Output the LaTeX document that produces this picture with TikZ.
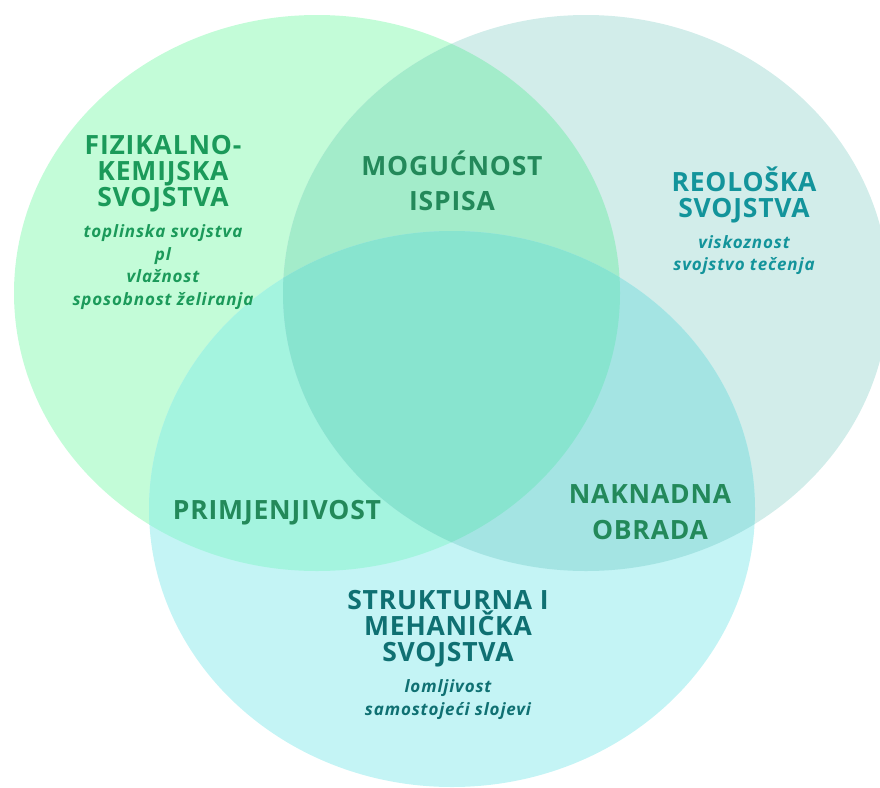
\documentclass[tikz,border=0pt]{standalone}
\usepackage{fontspec}
\setmainfont{Open Sans}
\newfontfamily\headfont{Open Sans}[LetterSpace=3]
\newfontfamily\subfont{Open Sans}[LetterSpace=5]
\usetikzlibrary{positioning}

\definecolor{cL}{HTML}{C3FCD8}
\definecolor{cR}{HTML}{D2EDEA}
\definecolor{cB}{HTML}{C4F4F5}
\definecolor{cLR}{HTML}{A3ECCA}
\definecolor{cLB}{HTML}{A4F4DF}
\definecolor{cRB}{HTML}{A4E4E3}
\definecolor{cLRB}{HTML}{88E4CF}
\definecolor{tL}{HTML}{1B9A5A}
\definecolor{tM}{HTML}{23895A}
\definecolor{tR}{HTML}{13949B}
\definecolor{tB}{HTML}{0F7072}

\newcommand{\ellL}{(317,293) ellipse [x radius=303, y radius=278]}
\newcommand{\ellR}{(586,293) ellipse [x radius=303, y radius=278]}
\newcommand{\ellB}{(452,509) ellipse [x radius=303, y radius=278]}

\begin{document}
\begin{tikzpicture}[x=1pt, y=-1pt,
	head/.style={font=\headfont\bfseries\fontsize{26.5}{26}\selectfont, align=center, inner sep=0pt},
	sub/.style={font=\subfont\bfseries\itshape\fontsize{17}{22.5}\selectfont, align=center, inner sep=0pt}]
	\useasboundingbox (0,0) rectangle (880,787);
	\clip (0,0) rectangle (880,787);
	
	\fill[cL] \ellL;
	\fill[cR] \ellR;
	\fill[cB] \ellB;
	\begin{scope}
		\clip \ellL;
		\fill[cLR] \ellR;
		\fill[cLB] \ellB;
	\end{scope}
	\begin{scope}
		\clip \ellR;
		\fill[cRB] \ellB;
	\end{scope}
	\begin{scope}
		\clip \ellL;
		\clip \ellR;
		\fill[cLRB] \ellB;
	\end{scope}
	
	\node[head, text=tL](FIZ) at (163,174){FIZIKALNO-\\KEMIJSKA\\SVOJSTVA};
	\node[sub, text=tL, below=12pt of FIZ](FIZSUB){toplinska svojstva\\pl\\vlažnost\\sposobnost želiranja};
	
	\node[head, text=tR](REO) at (744,195){REOLOŠKA\\SVOJSTVA};
	\node[sub, text=tR, below=12pt of REO](REOSUB){viskoznost\\svojstvo tečenja};
	
	\node[head, text=tB](STR) at (448,629){STRUKTURNA I\\MEHANIČKA\\SVOJSTVA};
	\node[sub, text=tB, below=12pt of STR](STRSUB){lomljivost\\samostojeći slojevi};
	
	\node[head, text=tM, font=\headfont\bfseries\fontsize{26.5}{35}\selectfont](MOG) at (452,181){MOGUĆNOST\\ISPISA};
	\node[head, text=tM](PRI) at (277,513){PRIMJENJIVOST};
	\node[head, text=tM, font=\headfont\bfseries\fontsize{26.5}{36}\selectfont](NAK) at (650,512){NAKNADNA\\OBRADA};
\end{tikzpicture}
\end{document}
